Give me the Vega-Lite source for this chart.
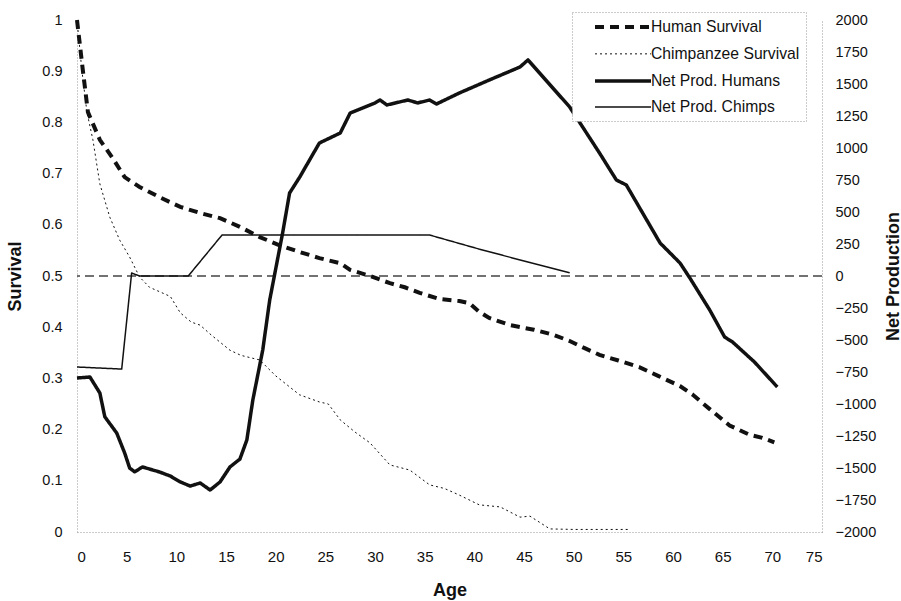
{
  "$schema": "https://vega.github.io/schema/vega-lite/v6.json",
  "width": 745,
  "height": 512,
  "autosize": "none",
  "padding": {"left": 77, "top": 20, "right": 79, "bottom": 69},
  "background": "white",
  "config": {
    "font": "Liberation Sans",
    "view": {"stroke": null},
    "axis": {
      "domainColor": "#999",
      "domainDash": [1, 2],
      "domainWidth": 1,
      "ticks": false,
      "grid": false,
      "labelColor": "#111",
      "labelFontSize": 14.5,
      "titleFontSize": 18,
      "titleFontWeight": "bold",
      "titleColor": "#111"
    },
    "legend": {
      "labelFontSize": 15.7,
      "labelColor": "#111",
      "fillColor": "white",
      "strokeColor": "#999",
      "padding": 6,
      "rowPadding": 10,
      "symbolType": "M-4,0H4",
      "symbolSize": 196,
      "symbolStrokeColor": "#111",
      "symbolOffset": 36,
      "labelOffset": 19
    }
  },
  "datasets": {
    "survival": [
      {"age": 0, "s": 1.0, "series": "Human Survival"},
      {"age": 0.6, "s": 0.9, "series": "Human Survival"},
      {"age": 1.1, "s": 0.82, "series": "Human Survival"},
      {"age": 2.3, "s": 0.766, "series": "Human Survival"},
      {"age": 3.6, "s": 0.73, "series": "Human Survival"},
      {"age": 4.8, "s": 0.693, "series": "Human Survival"},
      {"age": 6.3, "s": 0.674, "series": "Human Survival"},
      {"age": 8.3, "s": 0.654, "series": "Human Survival"},
      {"age": 10.4, "s": 0.635, "series": "Human Survival"},
      {"age": 12.4, "s": 0.623, "series": "Human Survival"},
      {"age": 14.4, "s": 0.613, "series": "Human Survival"},
      {"age": 16.4, "s": 0.596, "series": "Human Survival"},
      {"age": 18.4, "s": 0.576, "series": "Human Survival"},
      {"age": 20.4, "s": 0.56, "series": "Human Survival"},
      {"age": 22.4, "s": 0.547, "series": "Human Survival"},
      {"age": 24.4, "s": 0.535, "series": "Human Survival"},
      {"age": 26.5, "s": 0.525, "series": "Human Survival"},
      {"age": 27.5, "s": 0.512, "series": "Human Survival"},
      {"age": 29.5, "s": 0.5, "series": "Human Survival"},
      {"age": 31.5, "s": 0.486, "series": "Human Survival"},
      {"age": 33, "s": 0.478, "series": "Human Survival"},
      {"age": 34.5, "s": 0.467, "series": "Human Survival"},
      {"age": 36.5, "s": 0.455, "series": "Human Survival"},
      {"age": 38.5, "s": 0.451, "series": "Human Survival"},
      {"age": 39.5, "s": 0.447, "series": "Human Survival"},
      {"age": 40.5, "s": 0.43, "series": "Human Survival"},
      {"age": 41.5, "s": 0.418, "series": "Human Survival"},
      {"age": 43.6, "s": 0.404, "series": "Human Survival"},
      {"age": 46, "s": 0.395, "series": "Human Survival"},
      {"age": 48, "s": 0.385, "series": "Human Survival"},
      {"age": 49.6, "s": 0.373, "series": "Human Survival"},
      {"age": 51, "s": 0.36, "series": "Human Survival"},
      {"age": 52.6, "s": 0.346, "series": "Human Survival"},
      {"age": 54.5, "s": 0.335, "series": "Human Survival"},
      {"age": 56.6, "s": 0.322, "series": "Human Survival"},
      {"age": 58.5, "s": 0.305, "series": "Human Survival"},
      {"age": 60.7, "s": 0.285, "series": "Human Survival"},
      {"age": 62, "s": 0.268, "series": "Human Survival"},
      {"age": 63.7, "s": 0.24, "series": "Human Survival"},
      {"age": 65.7, "s": 0.208, "series": "Human Survival"},
      {"age": 67.7, "s": 0.19, "series": "Human Survival"},
      {"age": 69, "s": 0.184, "series": "Human Survival"},
      {"age": 70.2, "s": 0.175, "series": "Human Survival"},
      {"age": 0, "s": 1.0, "series": "Chimpanzee Survival"},
      {"age": 0.5, "s": 0.9, "series": "Chimpanzee Survival"},
      {"age": 1, "s": 0.82, "series": "Chimpanzee Survival"},
      {"age": 1.6, "s": 0.766, "series": "Chimpanzee Survival"},
      {"age": 2.3, "s": 0.68, "series": "Chimpanzee Survival"},
      {"age": 3.3, "s": 0.615, "series": "Chimpanzee Survival"},
      {"age": 4.3, "s": 0.57, "series": "Chimpanzee Survival"},
      {"age": 5.3, "s": 0.537, "series": "Chimpanzee Survival"},
      {"age": 6.3, "s": 0.498, "series": "Chimpanzee Survival"},
      {"age": 7.3, "s": 0.478, "series": "Chimpanzee Survival"},
      {"age": 9.4, "s": 0.46, "series": "Chimpanzee Survival"},
      {"age": 10.4, "s": 0.428, "series": "Chimpanzee Survival"},
      {"age": 11.5, "s": 0.41, "series": "Chimpanzee Survival"},
      {"age": 12.4, "s": 0.404, "series": "Chimpanzee Survival"},
      {"age": 13.5, "s": 0.385, "series": "Chimpanzee Survival"},
      {"age": 15.4, "s": 0.355, "series": "Chimpanzee Survival"},
      {"age": 16.5, "s": 0.345, "series": "Chimpanzee Survival"},
      {"age": 18.4, "s": 0.336, "series": "Chimpanzee Survival"},
      {"age": 20, "s": 0.305, "series": "Chimpanzee Survival"},
      {"age": 22.4, "s": 0.268, "series": "Chimpanzee Survival"},
      {"age": 24.4, "s": 0.254, "series": "Chimpanzee Survival"},
      {"age": 25.3, "s": 0.25, "series": "Chimpanzee Survival"},
      {"age": 26.5, "s": 0.219, "series": "Chimpanzee Survival"},
      {"age": 28, "s": 0.195, "series": "Chimpanzee Survival"},
      {"age": 29.5, "s": 0.174, "series": "Chimpanzee Survival"},
      {"age": 31.5, "s": 0.131, "series": "Chimpanzee Survival"},
      {"age": 33.5, "s": 0.121, "series": "Chimpanzee Survival"},
      {"age": 35.5, "s": 0.092, "series": "Chimpanzee Survival"},
      {"age": 37, "s": 0.085, "series": "Chimpanzee Survival"},
      {"age": 38.5, "s": 0.072, "series": "Chimpanzee Survival"},
      {"age": 40.5, "s": 0.053, "series": "Chimpanzee Survival"},
      {"age": 42.6, "s": 0.049, "series": "Chimpanzee Survival"},
      {"age": 44.6, "s": 0.029, "series": "Chimpanzee Survival"},
      {"age": 45.6, "s": 0.031, "series": "Chimpanzee Survival"},
      {"age": 47.6, "s": 0.006, "series": "Chimpanzee Survival"},
      {"age": 50, "s": 0.005, "series": "Chimpanzee Survival"},
      {"age": 55.6, "s": 0.005, "series": "Chimpanzee Survival"}
    ],
    "netprod": [
      {"age": 0, "np": -797, "series": "Net Prod. Humans"},
      {"age": 1.3, "np": -789, "series": "Net Prod. Humans"},
      {"age": 2.3, "np": -914, "series": "Net Prod. Humans"},
      {"age": 2.8, "np": -1100, "series": "Net Prod. Humans"},
      {"age": 4, "np": -1227, "series": "Net Prod. Humans"},
      {"age": 4.8, "np": -1383, "series": "Net Prod. Humans"},
      {"age": 5.3, "np": -1500, "series": "Net Prod. Humans"},
      {"age": 5.8, "np": -1530, "series": "Net Prod. Humans"},
      {"age": 6.6, "np": -1492, "series": "Net Prod. Humans"},
      {"age": 8.3, "np": -1531, "series": "Net Prod. Humans"},
      {"age": 9.4, "np": -1563, "series": "Net Prod. Humans"},
      {"age": 10.4, "np": -1609, "series": "Net Prod. Humans"},
      {"age": 11.4, "np": -1641, "series": "Net Prod. Humans"},
      {"age": 12.4, "np": -1617, "series": "Net Prod. Humans"},
      {"age": 13.4, "np": -1672, "series": "Net Prod. Humans"},
      {"age": 14.4, "np": -1609, "series": "Net Prod. Humans"},
      {"age": 15.4, "np": -1492, "series": "Net Prod. Humans"},
      {"age": 16.4, "np": -1430, "series": "Net Prod. Humans"},
      {"age": 17.1, "np": -1281, "series": "Net Prod. Humans"},
      {"age": 17.7, "np": -969, "series": "Net Prod. Humans"},
      {"age": 18.7, "np": -578, "series": "Net Prod. Humans"},
      {"age": 19.4, "np": -188, "series": "Net Prod. Humans"},
      {"age": 20.7, "np": 336, "series": "Net Prod. Humans"},
      {"age": 21.4, "np": 648, "series": "Net Prod. Humans"},
      {"age": 22.4, "np": 770, "series": "Net Prod. Humans"},
      {"age": 24.4, "np": 1039, "series": "Net Prod. Humans"},
      {"age": 26.5, "np": 1117, "series": "Net Prod. Humans"},
      {"age": 27.5, "np": 1273, "series": "Net Prod. Humans"},
      {"age": 30, "np": 1352, "series": "Net Prod. Humans"},
      {"age": 30.5, "np": 1375, "series": "Net Prod. Humans"},
      {"age": 31.2, "np": 1336, "series": "Net Prod. Humans"},
      {"age": 33.3, "np": 1375, "series": "Net Prod. Humans"},
      {"age": 34.3, "np": 1352, "series": "Net Prod. Humans"},
      {"age": 35.5, "np": 1375, "series": "Net Prod. Humans"},
      {"age": 36.2, "np": 1344, "series": "Net Prod. Humans"},
      {"age": 38.5, "np": 1430, "series": "Net Prod. Humans"},
      {"age": 41.5, "np": 1531, "series": "Net Prod. Humans"},
      {"age": 44.6, "np": 1633, "series": "Net Prod. Humans"},
      {"age": 45.4, "np": 1688, "series": "Net Prod. Humans"},
      {"age": 49.6, "np": 1320, "series": "Net Prod. Humans"},
      {"age": 52.6, "np": 961, "series": "Net Prod. Humans"},
      {"age": 54.3, "np": 750, "series": "Net Prod. Humans"},
      {"age": 55.3, "np": 711, "series": "Net Prod. Humans"},
      {"age": 58.7, "np": 258, "series": "Net Prod. Humans"},
      {"age": 60.7, "np": 102, "series": "Net Prod. Humans"},
      {"age": 61.7, "np": -16, "series": "Net Prod. Humans"},
      {"age": 63.7, "np": -266, "series": "Net Prod. Humans"},
      {"age": 65.2, "np": -477, "series": "Net Prod. Humans"},
      {"age": 66, "np": -516, "series": "Net Prod. Humans"},
      {"age": 68.2, "np": -672, "series": "Net Prod. Humans"},
      {"age": 70.5, "np": -867, "series": "Net Prod. Humans"},
      {"age": 0, "np": -711, "series": "Net Prod. Chimps"},
      {"age": 4.5, "np": -727, "series": "Net Prod. Chimps"},
      {"age": 5.5, "np": 23, "series": "Net Prod. Chimps"},
      {"age": 6.3, "np": 0, "series": "Net Prod. Chimps"},
      {"age": 11.2, "np": 0, "series": "Net Prod. Chimps"},
      {"age": 14.6, "np": 320, "series": "Net Prod. Chimps"},
      {"age": 35.5, "np": 320, "series": "Net Prod. Chimps"},
      {"age": 40.5, "np": 210, "series": "Net Prod. Chimps"},
      {"age": 45.6, "np": 105, "series": "Net Prod. Chimps"},
      {"age": 49.6, "np": 25, "series": "Net Prod. Chimps"}
    ]
  },
  "layer": [
    {
      "layer": [
        {
          "data": {"values": [{}]},
          "mark": {"type": "rule", "color": "#444", "strokeWidth": 1.5, "strokeDash": [9, 5]},
          "encoding": {
            "y": {"datum": 0.5, "type": "quantitative", "title": "Survival"}
          }
        },
        {
          "data": {"name": "survival"},
          "mark": {"type": "line", "color": "#111", "strokeCap": "butt"},
          "encoding": {
            "x": {
              "field": "age", "type": "quantitative",
              "scale": {"domain": [0, 75], "nice": false},
              "axis": {"values": [0, 5, 10, 15, 20, 25, 30, 35, 40, 45, 50, 55, 60, 65, 70, 75], "labelFontSize": 15, "labelPadding": 17, "title": "Age", "titleY": 58, "titleBaseline": "middle"}
            },
            "y": {
              "field": "s", "type": "quantitative",
              "scale": {"domain": [0, 1], "nice": false},
              "axis": {"orient": "left", "values": [0, 0.1, 0.2, 0.3, 0.4, 0.5, 0.6, 0.7, 0.8, 0.9, 1], "format": ".1~f", "labelPadding": 15, "title": "Survival", "titleAngle": 270, "titleX": -62, "titleY": 256, "titleBaseline": "middle", "titleAlign": "center"}
            },
            "detail": {"field": "series"},
            "strokeDash": {
              "field": "series", "type": "nominal",
              "scale": {"domain": ["Human Survival", "Chimpanzee Survival", "Net Prod. Humans", "Net Prod. Chimps"], "range": [[9, 6], [2, 3], [1, 0], [1, 0]]},
              "legend": {"title": null, "orient": "none", "legendX": 495, "legendY": -8, "encode": {"legend": {"update": {"strokeDash": {"value": [1, 2]}}}}}
            },
            "strokeWidth": {
              "field": "series", "type": "nominal",
              "scale": {"type": "ordinal", "domain": ["Human Survival", "Chimpanzee Survival", "Net Prod. Humans", "Net Prod. Chimps"], "range": [4, 1, 3.5, 1.5]},
              "legend": {"title": null, "orient": "none", "legendX": 495, "legendY": -8, "encode": {"legend": {"update": {"strokeDash": {"value": [1, 2]}}}}}
            }
          }
        }
      ]
    },
    {
      "data": {"name": "netprod"},
      "mark": {"type": "line", "color": "#111", "strokeCap": "butt", "strokeJoin": "round"},
      "encoding": {
        "x": {
          "field": "age", "type": "quantitative",
          "scale": {"domain": [0, 75], "nice": false},
          "axis": {"values": [0, 5, 10, 15, 20, 25, 30, 35, 40, 45, 50, 55, 60, 65, 70, 75], "labelFontSize": 15, "labelPadding": 17, "title": "Age", "titleY": 58, "titleBaseline": "middle"}
        },
        "y": {
          "field": "np", "type": "quantitative",
          "scale": {"domain": [-2000, 2000], "nice": false},
          "axis": {"orient": "right", "values": [-2000, -1750, -1500, -1250, -1000, -750, -500, -250, 0, 250, 500, 750, 1000, 1250, 1500, 1750, 2000], "format": "d", "labelPadding": 13, "title": "Net Production", "titleAngle": 270, "titleX": 71, "titleY": 256, "titleBaseline": "middle", "titleAlign": "center"}
        },
        "detail": {"field": "series"},
        "strokeDash": {
          "field": "series", "type": "nominal",
          "scale": {"domain": ["Human Survival", "Chimpanzee Survival", "Net Prod. Humans", "Net Prod. Chimps"], "range": [[9, 6], [2, 3], [1, 0], [1, 0]]},
          "legend": {"title": null, "orient": "none", "legendX": 495, "legendY": -8, "encode": {"legend": {"update": {"strokeDash": {"value": [1, 2]}}}}}
        },
        "strokeWidth": {
          "field": "series", "type": "nominal",
          "scale": {"type": "ordinal", "domain": ["Human Survival", "Chimpanzee Survival", "Net Prod. Humans", "Net Prod. Chimps"], "range": [4, 1, 3.5, 1.5]},
          "legend": {"title": null, "orient": "none", "legendX": 495, "legendY": -8, "encode": {"legend": {"update": {"strokeDash": {"value": [1, 2]}}}}}
        }
      }
    }
  ],
  "resolve": {"scale": {"y": "independent"}}
}
